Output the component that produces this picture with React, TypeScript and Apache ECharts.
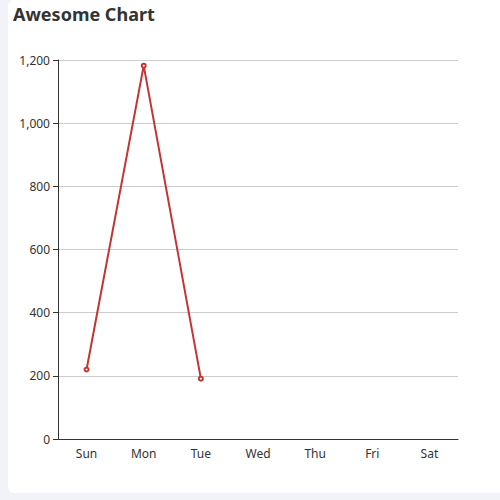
import React, { useEffect, useRef } from "react";
import * as echarts from "echarts";

const days = ["Sun", "Mon", "Tue", "Wed", "Thu", "Fri", "Sat"];
const visits = [220, 1182, 191];

const App: React.FC = () => {
  const chartRef = useRef<HTMLDivElement>(null);

  useEffect(() => {
    document.body.style.margin = "0";
    document.body.style.background = "#f2f3f8";
    if (!chartRef.current) return;

    const chart = echarts.init(chartRef.current, undefined, { renderer: "svg" });

    const option: echarts.EChartsOption = {
      animation: false,
      textStyle: { fontFamily: "Noto Sans" },
      title: {
        text: "Awesome Chart",
        left: 0,
        top: 0,
        textStyle: {
          fontFamily: "Noto Sans",
          fontSize: 18,
          fontWeight: "bold",
          color: "#333",
        },
      },
      grid: { left: 50, right: 42, top: 60, bottom: 54 },
      xAxis: {
        type: "category",
        data: days,
        axisLine: { lineStyle: { color: "#333" } },
        axisTick: { lineStyle: { color: "#333" } },
        axisLabel: { color: "#333", fontSize: 12 },
      },
      yAxis: {
        type: "value",
        min: 0,
        max: 1200,
        interval: 200,
        axisLine: { show: true, lineStyle: { color: "#333" } },
        axisTick: { show: true, lineStyle: { color: "#333" } },
        axisLabel: { color: "#333", fontSize: 12 },
        splitLine: { lineStyle: { color: "#ccc" } },
      },
      series: [
        {
          type: "line",
          data: visits,
          symbol: "emptyCircle",
          symbolSize: 4,
          lineStyle: { color: "#c23531", width: 2 },
          itemStyle: { color: "#c23531" },
        },
      ],
    };

    chart.setOption(option);

    return () => {
      chart.dispose();
    };
  }, []);

  return (
    <div
      style={{
        marginLeft: 8,
        width: 492,
        height: 493,
        background: "#fff",
        borderRadius: "6px 0 0 6px",
        overflow: "hidden",
      }}
    >
      <div ref={chartRef} style={{ width: "100%", height: "100%" }} />
    </div>
  );
};

export default App;
